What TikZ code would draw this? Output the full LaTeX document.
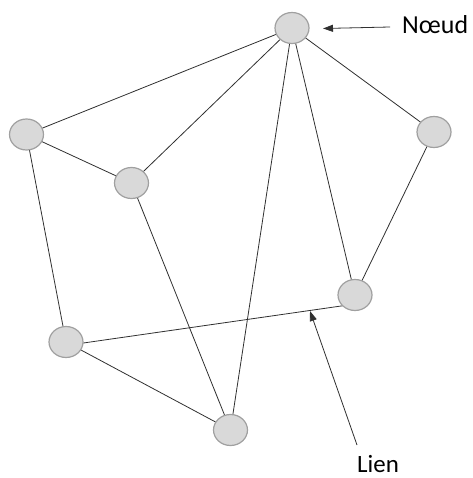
\documentclass[tikz,border=0pt]{standalone}
\usepackage{fontspec}
\setmainfont{Carlito}
\usetikzlibrary{arrows.meta,shapes.geometric}
\definecolor{nodefill}{HTML}{D9D9D9}
\definecolor{nodeline}{HTML}{A0A0A0}
\definecolor{edgecol}{HTML}{303030}
\begin{document}
\begin{tikzpicture}[x=1bp,y=-1bp,
  vertex/.style={ellipse,draw=nodeline,fill=nodefill,line width=1.2bp,minimum width=34bp,minimum height=31bp,inner sep=0pt},
  edge/.style={draw=edgecol,line width=0.8bp},
  pointer/.style={draw=edgecol,line width=0.8bp,-{Triangle[length=10bp,width=7bp]}},
  lbl/.style={text=black,inner sep=0pt,font=\fontsize{25}{29}\selectfont}]
\useasboundingbox (0,0) rectangle (473,478);
\coordinate (pA) at (292,28);
\coordinate (pB) at (26.5,134.5);
\coordinate (pC) at (131.5,183);
\coordinate (pD) at (434,132);
\coordinate (pE) at (355,295);
\coordinate (pF) at (66,342);
\coordinate (pG) at (230.5,430);
\coordinate (fF) at (66,345.5);
\coordinate (fE) at (355,304);
\draw[edge] (pA) -- (pB);
\draw[edge] (pA) -- (pC);
\draw[edge] (pA) -- (pG);
\draw[edge] (pA) -- (pE);
\draw[edge] (pA) -- (pD);
\draw[edge] (pB) -- (pC);
\draw[edge] (pB) -- (pF);
\draw[edge] (pC) -- (pG);
\draw[edge] (pD) -- (pE);
\draw[edge] (fF) -- (fE);
\draw[edge] (pF) -- (pG);
\node[vertex] (A) at (pA) {};
\node[vertex] (B) at (pB) {};
\node[vertex] (C) at (pC) {};
\node[vertex] (D) at (pD) {};
\node[vertex] (E) at (pE) {};
\node[vertex] (F) at (pF) {};
\node[vertex] (G) at (pG) {};
\node[lbl,anchor=base west,font=\fontsize{26}{30}\selectfont] (noeud) at (402,33.5) {Nœud};
\node[lbl,anchor=base west] (lien) at (357,472.5) {Lien};
\coordinate (ntail) at (390,27);
\coordinate (ntip) at (323,28.5);
\coordinate (ltail) at (357,445);
\coordinate (ltip) at (310,311);
\draw[pointer] (ntail) -- (ntip);
\draw[pointer] (ltail) -- (ltip);
\end{tikzpicture}
\end{document}
